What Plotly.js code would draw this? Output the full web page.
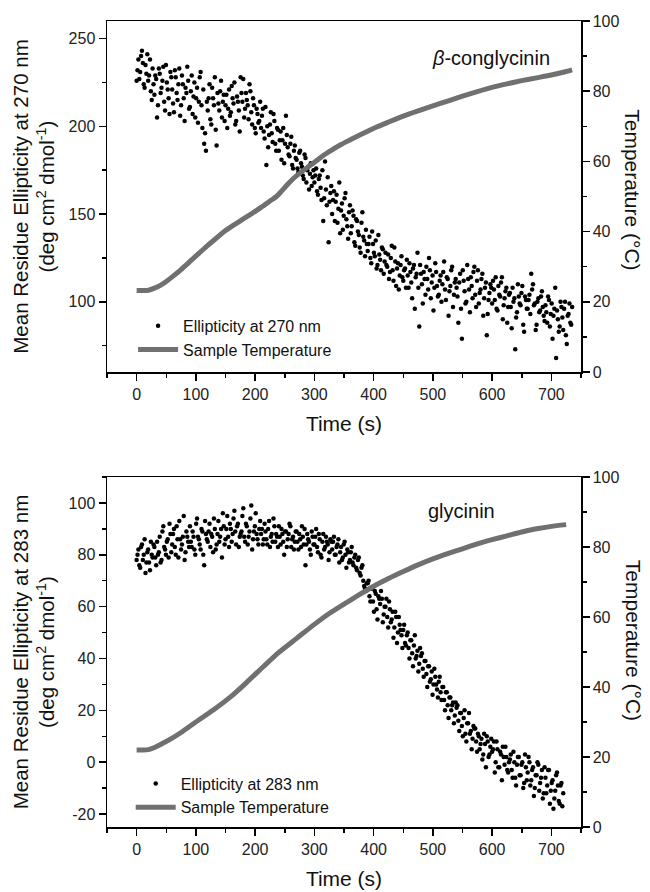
<!DOCTYPE html>
<html>
<head>
<meta charset="utf-8">
<script src="https://cdn.plot.ly/plotly-3.0.1.min.js"></script>
<style>html,body{margin:0;padding:0;background:#fff;}#chart{width:650px;height:892px;}</style>
</head>
<body>
<div id="chart"></div>
<script>
// ---------- Top panel: beta-conglycinin (ellipticity at 270 nm) ----------
const timeTop = [
0,3,6,9,12,15,18,21,24,27,
30,33,36,39,42,45,48,51,54,57,
60,63,66,69,72,75,78,81,84,87,
90,93,96,99,102,105,108,111,114,117,
120,123,126,129,132,135,138,141,144,147,
150,153,156,159,162,165,168,171,174,177,
180,183,186,189,192,195,198,201,204,207,
210,213,216,219,222,225,228,231,234,237,
240,243,246,249,252,255,258,261,264,267,
270,273,276,279,282,285,288,291,294,297,
300,303,306,309,312,315,318,321,324,327,
330,333,336,339,342,345,348,351,354,357,
360,363,366,369,372,375,378,381,384,387,
390,393,396,399,402,405,408,411,414,417,
420,423,426,429,432,435,438,441,444,447,
450,453,456,459,462,465,468,471,474,477,
480,483,486,489,492,495,498,501,504,507,
510,513,516,519,522,525,528,531,534,537,
540,543,546,549,552,555,558,561,564,567,
570,573,576,579,582,585,588,591,594,597,
600,603,606,609,612,615,618,621,624,627,
630,633,636,639,642,645,648,651,654,657,
660,663,666,669,672,675,678,681,684,687,
690,693,696,699,702,705,708,711,714,717,
720,723,726,729,732,735];
const ellipTop = [
226,238,231,243,224,235,241,229,220,233,
218,227,212,230,222,234,209,225,216,231,
221,208,228,215,233,212,224,203,219,226,
211,229,217,205,222,214,231,199,190,186,
209,224,201,216,228,189,213,220,205,218,
212,199,221,208,216,225,203,214,197,219,
227,210,215,204,220,201,212,196,207,203,
199,210,193,178,188,201,196,207,190,199,
186,197,192,179,206,188,183,194,176,189,
181,174,186,177,170,182,175,164,179,171,
168,176,161,172,158,146,180,155,134,162,
150,163,157,145,168,152,141,159,147,136,
155,143,149,132,146,138,128,151,135,141,
129,137,122,133,126,119,138,124,131,116,
128,120,113,125,118,131,109,122,115,126,
112,119,124,108,117,102,121,114,128,86,
116,99,113,120,107,118,111,95,122,109,
104,115,110,123,101,113,106,118,97,111,
108,88,116,79,112,99,121,107,114,102,
120,97,118,105,113,92,108,81,101,110,
99,107,114,95,104,111,90,102,108,97,
105,85,100,73,94,103,98,109,83,101,
96,104,116,110,99,87,102,95,106,92,
98,88,101,93,79,96,68,90,86,97,
84,100,76,93,88,97];
const timeTopB = [
1.5,4.5,7.5,10.5,13.5,16.5,19.5,22.5,25.5,28.5,
31.5,34.5,37.5,40.5,43.5,46.5,49.5,52.5,55.5,58.5,
61.5,64.5,67.5,70.5,73.5,76.5,79.5,82.5,85.5,88.5,
91.5,94.5,97.5,100.5,103.5,106.5,109.5,112.5,115.5,118.5,
121.5,124.5,127.5,130.5,133.5,136.5,139.5,142.5,145.5,148.5,
151.5,154.5,157.5,160.5,163.5,166.5,169.5,172.5,175.5,178.5,
181.5,184.5,187.5,190.5,193.5,196.5,199.5,202.5,205.5,208.5,
211.5,214.5,217.5,220.5,223.5,226.5,229.5,232.5,235.5,238.5,
241.5,244.5,247.5,250.5,253.5,256.5,259.5,262.5,265.5,268.5,
271.5,274.5,277.5,280.5,283.5,286.5,289.5,292.5,295.5,298.5,
301.5,304.5,307.5,310.5,313.5,316.5,319.5,322.5,325.5,328.5,
331.5,334.5,337.5,340.5,343.5,346.5,349.5,352.5,355.5,358.5,
361.5,364.5,367.5,370.5,373.5,376.5,379.5,382.5,385.5,388.5,
391.5,394.5,397.5,400.5,403.5,406.5,409.5,412.5,415.5,418.5,
421.5,424.5,427.5,430.5,433.5,436.5,439.5,442.5,445.5,448.5,
451.5,454.5,457.5,460.5,463.5,466.5,469.5,472.5,475.5,478.5,
481.5,484.5,487.5,490.5,493.5,496.5,499.5,502.5,505.5,508.5,
511.5,514.5,517.5,520.5,523.5,526.5,529.5,532.5,535.5,538.5,
541.5,544.5,547.5,550.5,553.5,556.5,559.5,562.5,565.5,568.5,
571.5,574.5,577.5,580.5,583.5,586.5,589.5,592.5,595.5,598.5,
601.5,604.5,607.5,610.5,613.5,616.5,619.5,622.5,625.5,628.5,
631.5,634.5,637.5,640.5,643.5,646.5,649.5,652.5,655.5,658.5,
661.5,664.5,667.5,670.5,673.5,676.5,679.5,682.5,685.5,688.5,
691.5,694.5,697.5,700.5,703.5,706.5,709.5,712.5,715.5,718.5,
721.5,724.5,727.5,730.5,733.5];
const ellipTopB = [
232,227,240,236,222,230,226,238,215,224,
229,205,233,219,226,214,235,221,207,228,
213,232,219,224,206,229,216,222,234,210,
220,207,225,216,202,228,212,221,196,214,
216,204,222,212,198,219,209,226,214,203,
218,210,206,223,213,201,217,209,228,214,
205,219,212,224,208,216,199,210,202,214,
206,197,211,200,195,208,191,203,186,198,
192,181,199,190,195,184,190,178,186,182,
176,185,179,172,184,168,177,173,166,175,
172,163,170,165,175,159,164,171,157,166,
158,146,161,153,139,156,149,162,143,151,
139,152,134,147,140,131,145,137,126,133,
133,125,140,128,135,121,127,118,130,123,
121,127,117,132,112,123,119,107,121,114,
118,108,115,122,111,119,96,116,108,121,
110,117,104,113,125,102,115,108,117,103,
112,100,117,107,114,92,109,120,104,113,
103,111,96,118,106,100,113,94,109,117,
104,112,99,107,116,102,111,93,105,108,
112,101,96,109,103,114,98,106,88,104,
97,108,102,91,110,99,105,87,103,96,
101,93,107,98,84,100,94,103,97,89,
94,103,86,99,92,108,95,83,100,91,
96,81,92,99,87];
const tempTimeTop = [0,10,20,30,40,50,60,75,90,105,120,135,150,165,180,195,210,225,236,245,255,265,275,285,295,305,315,330,345,360,375,390,405,425,450,475,500,525,550,575,600,625,650,675,700,720,735];
const tempTop = [23.2,23.2,23.3,23.9,24.7,25.8,27.1,29.2,31.5,33.8,36.1,38.2,40.3,42.0,43.6,45.2,46.9,48.7,50.0,51.6,53.5,55.2,56.6,57.9,59.1,60.4,61.7,63.3,64.8,66.1,67.4,68.6,69.8,71.2,72.9,74.4,75.8,77.2,78.6,79.9,81.1,82.1,83.0,83.8,84.6,85.4,86.1];

// ---------- Bottom panel: glycinin (ellipticity at 283 nm) ----------
const timeBottom = [
0,3,6,9,12,15,18,21,24,27,
30,33,36,39,42,45,48,51,54,57,
60,63,66,69,72,75,78,81,84,87,
90,93,96,99,102,105,108,111,114,117,
120,123,126,129,132,135,138,141,144,147,
150,153,156,159,162,165,168,171,174,177,
180,183,186,189,192,195,198,201,204,207,
210,213,216,219,222,225,228,231,234,237,
240,243,246,249,252,255,258,261,264,267,
270,273,276,279,282,285,288,291,294,297,
300,303,306,309,312,315,318,321,324,327,
330,333,336,339,342,345,348,351,354,357,
360,363,366,369,372,375,378,381,384,387,
390,393,396,399,402,405,408,411,414,417,
420,423,426,429,432,435,438,441,444,447,
450,453,456,459,462,465,468,471,474,477,
480,483,486,489,492,495,498,501,504,507,
510,513,516,519,522,525,528,531,534,537,
540,543,546,549,552,555,558,561,564,567,
570,573,576,579,582,585,588,591,594,597,
600,603,606,609,612,615,618,621,624,627,
630,633,636,639,642,645,648,651,654,657,
660,663,666,669,672,675,678,681,684,687,
690,693,696,699,702,705,708,711,714,717,
720];
const ellipBottom = [
78,82,75,84,80,73,81,77,85,79,
83,76,80,87,78,91,82,85,79,88,
84,90,80,86,93,82,87,78,89,85,
91,83,87,80,94,86,82,89,76,88,
85,92,88,81,90,84,93,87,79,91,
86,95,83,90,88,97,84,92,87,89,
98,85,91,87,94,82,89,96,86,90,
88,84,92,86,90,83,88,94,85,87,
91,84,88,80,89,86,92,83,87,85,
89,82,86,91,84,76,88,85,80,87,
84,90,81,86,79,88,83,85,78,86,
82,87,80,84,77,83,79,85,75,81,
78,83,76,80,74,79,72,76,68,66,
69,64,67,62,66,59,64,61,63,57,
60,56,62,54,58,52,56,50,53,49,
51,46,49,44,47,42,45,40,43,38,
41,36,39,34,37,31,35,30,33,28,
31,27,29,24,27,22,25,20,23,18,
21,16,19,14,17,11,15,19,12,9,
13,8,11,5,9,3,7,10,2,6,
4,8,0,5,-2,3,6,-1,2,-4,
1,-3,4,-6,-1,2,-5,0,-8,-2,
-4,0,-7,-2,-10,-5,-1,-8,-3,-12,
-6,-9,-3,-11,-7,-14,-5,-9,-16,-8,
-12];
const timeBottomB = [
1.5,4.5,7.5,10.5,13.5,16.5,19.5,22.5,25.5,28.5,
31.5,34.5,37.5,40.5,43.5,46.5,49.5,52.5,55.5,58.5,
61.5,64.5,67.5,70.5,73.5,76.5,79.5,82.5,85.5,88.5,
91.5,94.5,97.5,100.5,103.5,106.5,109.5,112.5,115.5,118.5,
121.5,124.5,127.5,130.5,133.5,136.5,139.5,142.5,145.5,148.5,
151.5,154.5,157.5,160.5,163.5,166.5,169.5,172.5,175.5,178.5,
181.5,184.5,187.5,190.5,193.5,196.5,199.5,202.5,205.5,208.5,
211.5,214.5,217.5,220.5,223.5,226.5,229.5,232.5,235.5,238.5,
241.5,244.5,247.5,250.5,253.5,256.5,259.5,262.5,265.5,268.5,
271.5,274.5,277.5,280.5,283.5,286.5,289.5,292.5,295.5,298.5,
301.5,304.5,307.5,310.5,313.5,316.5,319.5,322.5,325.5,328.5,
331.5,334.5,337.5,340.5,343.5,346.5,349.5,352.5,355.5,358.5,
361.5,364.5,367.5,370.5,373.5,376.5,379.5,382.5,385.5,388.5,
391.5,394.5,397.5,400.5,403.5,406.5,409.5,412.5,415.5,418.5,
421.5,424.5,427.5,430.5,433.5,436.5,439.5,442.5,445.5,448.5,
451.5,454.5,457.5,460.5,463.5,466.5,469.5,472.5,475.5,478.5,
481.5,484.5,487.5,490.5,493.5,496.5,499.5,502.5,505.5,508.5,
511.5,514.5,517.5,520.5,523.5,526.5,529.5,532.5,535.5,538.5,
541.5,544.5,547.5,550.5,553.5,556.5,559.5,562.5,565.5,568.5,
571.5,574.5,577.5,580.5,583.5,586.5,589.5,592.5,595.5,598.5,
601.5,604.5,607.5,610.5,613.5,616.5,619.5,622.5,625.5,628.5,
631.5,634.5,637.5,640.5,643.5,646.5,649.5,652.5,655.5,658.5,
661.5,664.5,667.5,670.5,673.5,676.5,679.5,682.5,685.5,688.5,
691.5,694.5,697.5,700.5,703.5,706.5,709.5,712.5,715.5,718.5];
const ellipBottomB = [
80,76,83,78,86,77,82,74,80,84,
79,85,81,77,89,83,80,86,92,81,
88,83,91,79,86,84,95,81,87,83,
85,89,82,92,87,84,90,80,93,86,
89,83,87,94,82,88,85,90,96,84,
90,87,92,85,94,89,91,83,88,95,
87,92,84,89,99,86,91,88,84,93,
90,86,89,84,93,87,85,91,88,83,
87,90,85,89,83,88,91,86,82,89,
85,88,83,87,90,84,86,82,89,84,
87,83,88,80,85,82,87,84,81,85,
85,80,83,86,81,78,84,80,82,77,
81,77,79,75,78,73,75,70,67,69,
70,62,67,58,65,55,63,66,54,60,
63,52,59,55,48,58,46,56,51,44,
53,45,50,40,47,37,49,41,35,44,
42,33,39,29,37,32,26,36,30,25,
33,24,29,20,27,17,25,22,15,23,
22,12,19,10,20,8,15,11,5,14,
13,4,10,7,1,11,-2,8,3,9,
5,-4,8,-2,4,-7,2,6,-3,0,
3,-6,0,-9,2,-5,-1,-10,3,-7,
2,-9,-3,-13,-5,0,-11,-6,-14,-2,
-12,-3,-16,-8,-18,-11,-4,-15,-9,-17];
const tempTimeBottom = [0,10,20,30,45,60,75,100,130,160,185,215,240,270,300,325,350,375,400,425,450,475,500,525,550,575,600,625,650,675,700,725];
const tempBottom = [22.0,22.0,22.1,22.7,24.0,25.4,27.0,30.0,33.5,37.4,41.2,46.0,49.9,53.9,57.9,61.0,63.7,66.3,68.8,71.0,73.0,74.9,76.6,78.1,79.5,80.9,82.1,83.2,84.3,85.2,85.9,86.4];

// tick labels of the lower left axis (plain hyphen minus as in the original)
const bottomLeftTickVals = [-20,0,20,40,60,80,100];
const bottomLeftTickText = ["-20","0","20","40","60","80","100"];

const FONT = "Liberation Sans, Arial, Helvetica, sans-serif";
const GREY = "#707070";

const traces = [
  {x: timeTop.concat(timeTopB), y: ellipTop.concat(ellipTopB), type: "scatter", mode: "markers", name: "Ellipticity at 270 nm",
   marker: {color: "#000", size: 4.5}, xaxis: "x", yaxis: "y", legend: "legend"},
  {x: tempTimeTop, y: tempTop, type: "scatter", mode: "lines", name: "Sample Temperature",
   line: {color: GREY, width: 5, shape: "spline", smoothing: 0.6}, xaxis: "x", yaxis: "y2", legend: "legend"},
  {x: timeBottom.concat(timeBottomB), y: ellipBottom.concat(ellipBottomB), type: "scatter", mode: "markers", name: "Ellipticity at 283 nm",
   marker: {color: "#000", size: 4.5}, xaxis: "x2", yaxis: "y3", legend: "legend2"},
  {x: tempTimeBottom, y: tempBottom, type: "scatter", mode: "lines", name: "Sample Temperature",
   line: {color: GREY, width: 5, shape: "spline", smoothing: 0.6}, xaxis: "x2", yaxis: "y4", legend: "legend2"}
];

function xax(anchor) {
  return {
    anchor: anchor, domain: [0, 1], range: [-50, 750], tick0: 0, dtick: 100,
    ticks: "outside", ticklen: 7, tickwidth: 1.5, tickcolor: "#000",
    minor: {dtick: 50, ticks: "outside", ticklen: 4, tickwidth: 1.5, tickcolor: "#000"},
    showline: true, linecolor: "#000", linewidth: 1.5, mirror: true,
    showgrid: false, zeroline: false,
    tickfont: {family: FONT, size: 16, color: "#222"},
    title: {text: "Time (s)", font: {family: FONT, size: 21, color: "#111"}, standoff: 14}
  };
}
function yleft(domain, range, dtick, minor, title) {
  return {
    domain: domain, range: range, dtick: dtick,
    ticks: "outside", ticklen: 7, tickwidth: 1.5, tickcolor: "#000",
    minor: {dtick: minor, ticks: "outside", ticklen: 4, tickwidth: 1.5, tickcolor: "#000"},
    showline: true, linecolor: "#000", linewidth: 1.5,
    showgrid: false, zeroline: false,
    tickfont: {family: FONT, size: 16, color: "#222"},
    title: {text: title, font: {family: FONT, size: 20.5, color: "#111"}, standoff: 8}
  };
}
function yright(overlay, anchor, domain) {
  return {
    overlaying: overlay, anchor: anchor, side: "right", range: [0, 100], dtick: 20, domain: domain,
    ticks: "outside", ticklen: 7, tickwidth: 1.5, tickcolor: "#000",
    minor: {dtick: 10, ticks: "outside", ticklen: 4, tickwidth: 1.5, tickcolor: "#000"},
    showline: true, linecolor: "#000", linewidth: 1.5,
    showgrid: false, zeroline: false,
    tickfont: {family: FONT, size: 16, color: "#222"}
  };
}

const topDomain = [0.5645, 1];
const botDomain = [0, 0.4342];

const yaxis3 = yleft(botDomain, [-25, 110], 20, 10, "Mean Residue Ellipticity at 283 nm<br>(deg cm<sup>2</sup> dmol<sup>-1</sup>)");
yaxis3.anchor = "x2";
yaxis3.tickmode = "array";
yaxis3.tickvals = bottomLeftTickVals;
yaxis3.ticktext = bottomLeftTickText;

const layout = {
  width: 650, height: 892,
  margin: {l: 107, r: 69, t: 21, b: 65},
  paper_bgcolor: "#fff", plot_bgcolor: "#fff",
  font: {family: FONT, color: "#111"},
  xaxis: xax("y"),
  xaxis2: xax("y3"),
  yaxis: yleft(topDomain, [60, 260], 50, 25, "Mean Residue Ellipticity at 270 nm<br>(deg cm<sup>2</sup> dmol<sup>-1</sup>)"),
  yaxis2: yright("y", "x", topDomain),
  yaxis3: yaxis3,
  yaxis4: yright("y3", "x2", botDomain),
  showlegend: true,
  legend: {x: 0.055, y: 0.643, xanchor: "left", yanchor: "top", bgcolor: "rgba(0,0,0,0)",
           font: {family: FONT, size: 16, color: "#111"}, itemwidth: 40, tracegroupgap: 0},
  legend2: {x: 0.05, y: 0.075, xanchor: "left", yanchor: "top", bgcolor: "rgba(0,0,0,0)",
           font: {family: FONT, size: 16, color: "#111"}, itemwidth: 40, tracegroupgap: 0},
  annotations: [
    {xref: "x", yref: "y", x: 598, y: 239, text: "<i>β</i>-conglycinin", showarrow: false,
     font: {family: FONT, size: 20, color: "#111"}},
    {xref: "x2", yref: "y3", x: 548, y: 96.8, text: "glycinin", showarrow: false,
     font: {family: FONT, size: 20, color: "#111"}},
    {xref: "paper", yref: "paper", x: 1.1097, y: 0.79, xanchor: "center", yanchor: "middle",
     text: "Temperature (°C)", textangle: 90, showarrow: false, font: {family: FONT, size: 21, color: "#111"}},
    {xref: "paper", yref: "paper", x: 1.1097, y: 0.231, xanchor: "center", yanchor: "middle",
     text: "Temperature (°C)", textangle: 90, showarrow: false, font: {family: FONT, size: 21, color: "#111"}}
  ]
};

Plotly.newPlot("chart", traces, layout, {displayModeBar: false, staticPlot: true});
</script>
</body>
</html>
